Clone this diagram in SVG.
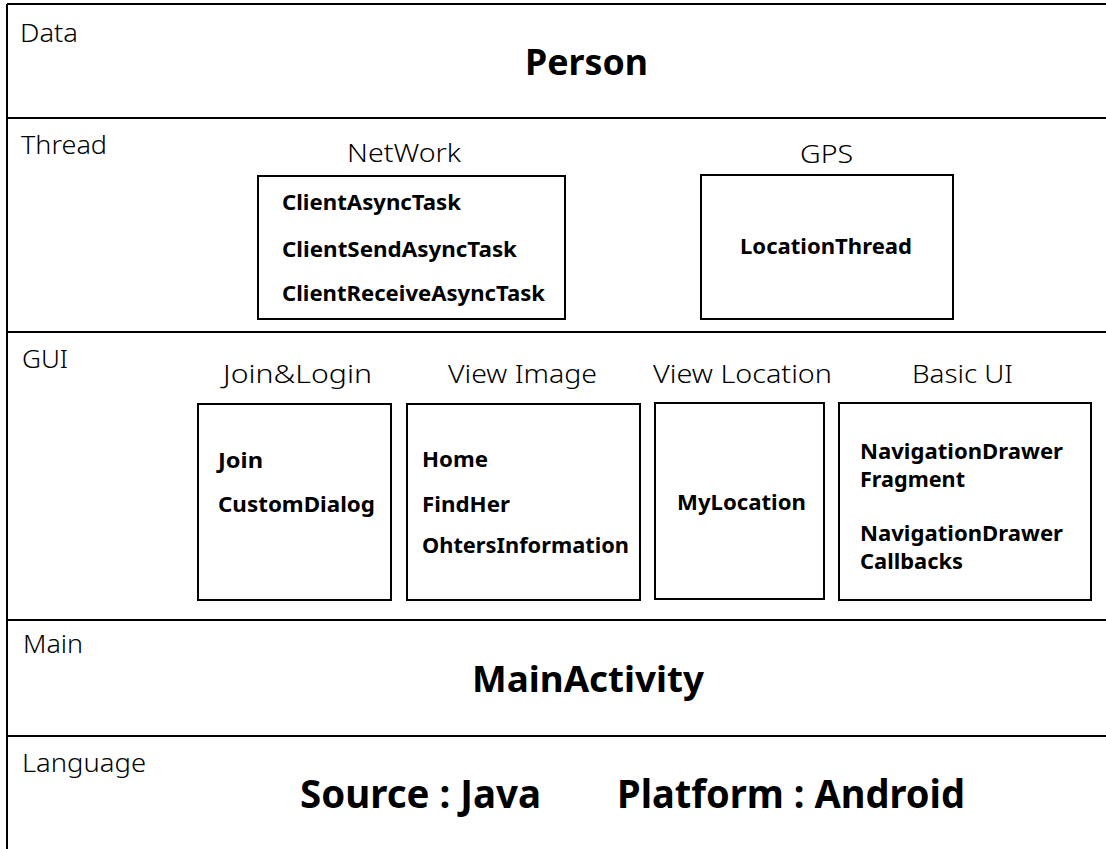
<svg xmlns="http://www.w3.org/2000/svg" width="1106" height="849" viewBox="0 0 1106 849">
<style>
.ln{stroke:#000;stroke-width:2;fill:none}
.bx{stroke:#000;stroke-width:2;fill:#fff}
.lb{font-family:"Noto Sans","Open Sans",sans-serif;font-size:25px;font-weight:300;fill:#000}
.it{font-family:"Noto Sans","Open Sans",sans-serif;font-size:21px;font-weight:bold;fill:#000}
.tt{font-family:"Noto Sans","Open Sans",sans-serif;font-weight:bold;fill:#000}
</style>
<rect width="1106" height="849" fill="#fff"/>
<g id="frame">
<line class="ln" x1="7" y1="4" x2="7" y2="849"/>
<line class="ln" x1="7" y1="4" x2="1106" y2="4"/>
<line class="ln" x1="7" y1="118" x2="1106" y2="118"/>
<line class="ln" x1="7" y1="332" x2="1106" y2="332"/>
<line class="ln" x1="7" y1="620" x2="1106" y2="620"/>
<line class="ln" x1="7" y1="736" x2="1106" y2="736"/>
</g>
<g id="layer-data">
<text class="lb" x="20" y="42" textLength="58" lengthAdjust="spacingAndGlyphs">Data</text>
<text class="tt" x="525" y="75" font-size="36" textLength="123" lengthAdjust="spacingAndGlyphs">Person</text>
</g>
<g id="layer-thread">
<text class="lb" x="21" y="154" textLength="86" lengthAdjust="spacingAndGlyphs">Thread</text>
</g>
<g id="network">
<text class="lb" x="347" y="162" textLength="114" lengthAdjust="spacingAndGlyphs">NetWork</text>
<rect class="bx" x="258" y="176" width="307" height="143"/>
<text class="it" x="282" y="210" textLength="179" lengthAdjust="spacingAndGlyphs">ClientAsyncTask</text>
<text class="it" x="282" y="257" textLength="235" lengthAdjust="spacingAndGlyphs">ClientSendAsyncTask</text>
<text class="it" x="282" y="301" textLength="263" lengthAdjust="spacingAndGlyphs">ClientReceiveAsyncTask</text>
</g>
<g id="gps">
<text class="lb" x="800" y="163" textLength="53" lengthAdjust="spacingAndGlyphs">GPS</text>
<rect class="bx" x="701" y="175" width="252" height="144"/>
<text class="it" x="740" y="254" textLength="172" lengthAdjust="spacingAndGlyphs">LocationThread</text>
</g>
<g id="layer-gui">
<text class="lb" x="22" y="368" textLength="46" lengthAdjust="spacingAndGlyphs">GUI</text>
</g>
<g id="join-login">
<text class="lb" x="223" y="383" textLength="149" lengthAdjust="spacingAndGlyphs">Join&amp;Login</text>
<rect class="bx" x="198" y="404" width="193" height="196"/>
<text class="it" x="218" y="468" textLength="45" lengthAdjust="spacingAndGlyphs">Join</text>
<text class="it" x="218" y="512" textLength="157" lengthAdjust="spacingAndGlyphs">CustomDialog</text>
</g>
<g id="view-image">
<text class="lb" x="448" y="383" textLength="149" lengthAdjust="spacingAndGlyphs">View Image</text>
<rect class="bx" x="407" y="404" width="233" height="196"/>
<text class="it" x="422" y="467" textLength="66" lengthAdjust="spacingAndGlyphs">Home</text>
<text class="it" x="422" y="512" textLength="88" lengthAdjust="spacingAndGlyphs">FindHer</text>
<text class="it" x="422" y="553" textLength="207" lengthAdjust="spacingAndGlyphs">OhtersInformation</text>
</g>
<g id="view-location">
<text class="lb" x="653" y="383" textLength="179" lengthAdjust="spacingAndGlyphs">View Location</text>
<rect class="bx" x="655" y="403" width="169" height="196"/>
<text class="it" x="677" y="510" textLength="129" lengthAdjust="spacingAndGlyphs">MyLocation</text>
</g>
<g id="basic-ui">
<text class="lb" x="912" y="383" textLength="101" lengthAdjust="spacingAndGlyphs">Basic UI</text>
<rect class="bx" x="839" y="403" width="252" height="197"/>
<text class="it" x="860" y="459" textLength="203" lengthAdjust="spacingAndGlyphs">NavigationDrawer</text>
<text class="it" x="860" y="487" textLength="105" lengthAdjust="spacingAndGlyphs">Fragment</text>
<text class="it" x="860" y="541" textLength="203" lengthAdjust="spacingAndGlyphs">NavigationDrawer</text>
<text class="it" x="860" y="569" textLength="103" lengthAdjust="spacingAndGlyphs">Callbacks</text>
</g>
<g id="layer-main">
<text class="lb" x="23" y="653" textLength="60" lengthAdjust="spacingAndGlyphs">Main</text>
<text class="tt" x="472" y="692" font-size="35" textLength="232" lengthAdjust="spacingAndGlyphs">MainActivity</text>
</g>
<g id="layer-language">
<text class="lb" x="22" y="772" textLength="124" lengthAdjust="spacingAndGlyphs">Language</text>
<text class="tt" x="300" y="808" font-size="39" textLength="241" lengthAdjust="spacingAndGlyphs">Source : Java</text>
<text class="tt" x="617" y="808" font-size="39" textLength="348" lengthAdjust="spacingAndGlyphs">Platform : Android</text>
</g>
<g id="connectors"></g>
</svg>
